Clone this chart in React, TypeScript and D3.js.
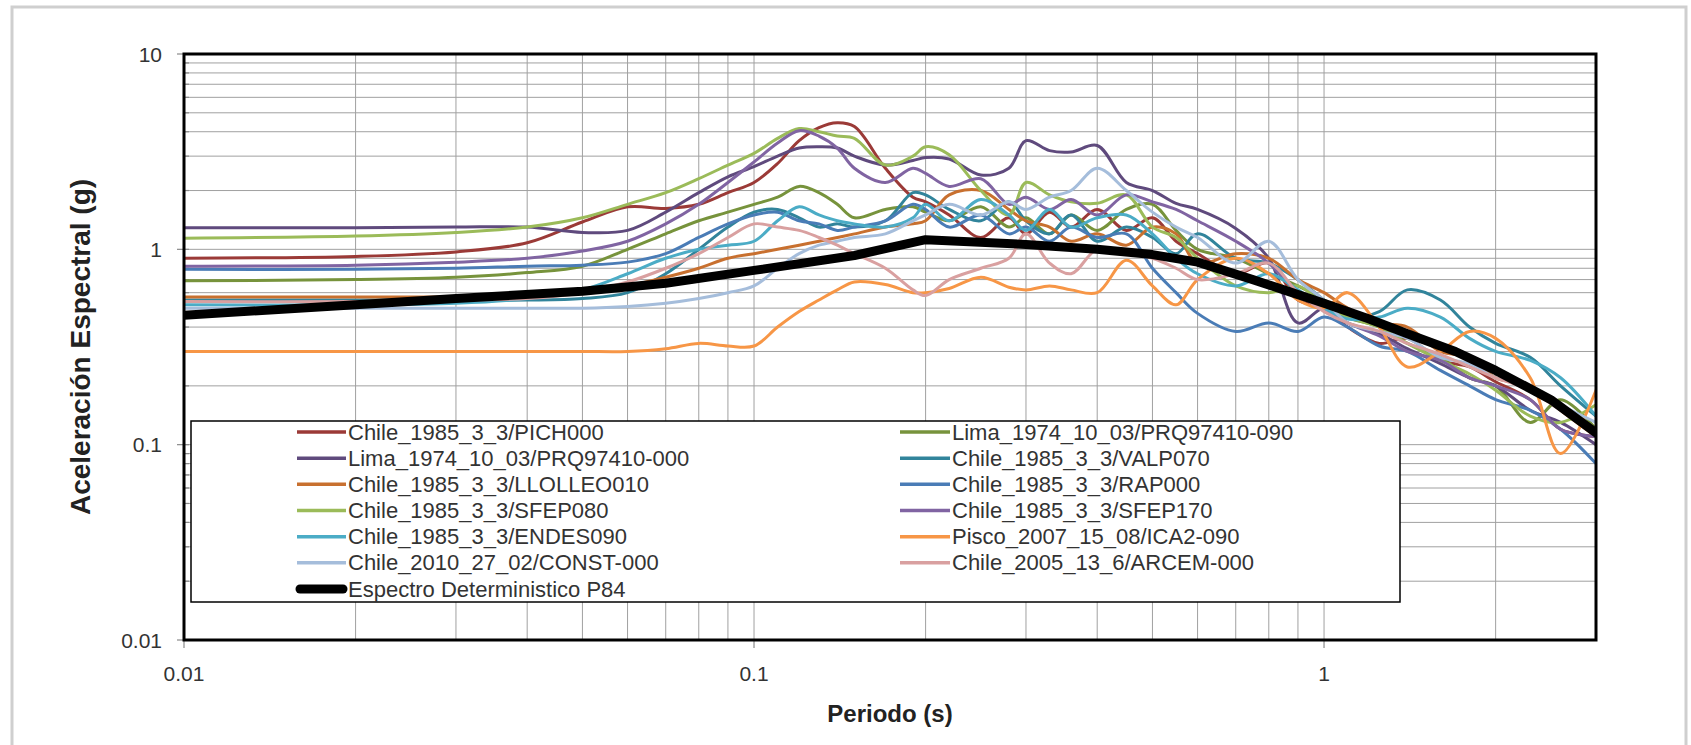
import React from 'react';
import * as d3 from 'd3';

// ---------- data ----------
const periods = [0.01, 0.02, 0.03, 0.04, 0.05, 0.06, 0.07, 0.08, 0.09, 0.10, 0.11, 0.12, 0.13, 0.14, 0.15, 0.17, 0.19, 0.20, 0.22, 0.25, 0.28, 0.30, 0.33, 0.36, 0.40, 0.45, 0.50, 0.55, 0.60, 0.70, 0.80, 0.90, 1.00, 1.10, 1.25, 1.40, 1.60, 1.80, 2.00, 2.30, 2.60, 3.00];

const pich000 = [0.90, 0.92, 0.97, 1.08, 1.38, 1.65, 1.62, 1.70, 1.95, 2.2, 2.75, 3.6, 4.2, 4.45, 4.25, 2.6, 1.85, 1.75, 1.5, 1.15, 1.45, 1.2, 1.55, 1.3, 1.6, 1.25, 1.45, 1.1, 0.95, 0.75, 0.85, 0.55, 0.5, 0.4, 0.33, 0.35, 0.27, 0.25, 0.21, 0.17, 0.12, 0.11];
const prq090 = [0.69, 0.70, 0.72, 0.76, 0.82, 1.0, 1.2, 1.4, 1.55, 1.7, 1.85, 2.1, 1.95, 1.7, 1.45, 1.6, 1.65, 1.55, 1.4, 1.65, 1.3, 1.45, 1.2, 1.5, 1.25, 1.6, 1.7, 1.25, 1.0, 0.9, 0.75, 0.65, 0.55, 0.45, 0.4, 0.33, 0.28, 0.22, 0.2, 0.13, 0.17, 0.12];
const prq000 = [1.29, 1.29, 1.30, 1.30, 1.22, 1.25, 1.55, 1.95, 2.35, 2.65, 3.0, 3.3, 3.35, 3.3, 3.0, 2.7, 2.85, 2.95, 2.9, 2.4, 2.6, 3.6, 3.2, 3.15, 3.4, 2.2, 2.0, 1.72, 1.6, 1.28, 0.9, 0.42, 0.5, 0.42, 0.37, 0.31, 0.26, 0.22, 0.2, 0.15, 0.13, 0.1];
const valp070 = [0.55, 0.55, 0.55, 0.55, 0.56, 0.6, 0.75, 1.0, 1.3, 1.55, 1.6, 1.45, 1.3, 1.35, 1.3, 1.4, 1.95, 1.9, 1.6, 1.4, 1.75, 1.4, 1.2, 1.5, 1.1, 1.3, 1.15, 0.95, 1.2, 0.9, 0.85, 0.7, 0.55, 0.45, 0.48, 0.62, 0.55, 0.4, 0.33, 0.28, 0.2, 0.14];
const llolleo010 = [0.57, 0.57, 0.57, 0.58, 0.6, 0.65, 0.72, 0.8, 0.9, 0.95, 1.0, 1.05, 1.1, 1.15, 1.2, 1.3, 1.35, 1.4, 1.9, 2.0, 1.6, 1.4, 1.3, 1.1, 1.2, 1.05, 1.3, 1.2, 0.85, 0.95, 0.9, 0.7, 0.6, 0.5, 0.42, 0.4, 0.3, 0.28, 0.22, 0.2, 0.15, 0.11];
const rap000 = [0.79, 0.79, 0.80, 0.82, 0.83, 0.86, 0.95, 1.15, 1.35, 1.5, 1.55, 1.4, 1.35, 1.25, 1.3, 1.4, 1.7, 1.6, 1.3, 1.5, 1.2, 1.3, 1.1, 1.3, 1.15, 1.2, 0.8, 0.6, 0.47, 0.38, 0.42, 0.38, 0.45, 0.4, 0.32, 0.3, 0.24, 0.2, 0.17, 0.15, 0.12, 0.08];
const sfep080 = [1.14, 1.17, 1.22, 1.3, 1.45, 1.7, 1.95, 2.3, 2.7, 3.1, 3.7, 4.15, 4.0, 3.8, 3.7, 2.7, 3.0, 3.35, 3.05, 2.0, 1.5, 2.2, 1.9, 1.75, 1.72, 1.9, 1.3, 1.15, 0.9, 0.65, 0.6, 0.65, 0.52, 0.45, 0.4, 0.33, 0.27, 0.23, 0.19, 0.14, 0.13, 0.16];
const sfep170 = [0.82, 0.83, 0.86, 0.9, 0.98, 1.1, 1.35, 1.7, 2.2, 2.8, 3.5, 4.05, 3.8, 3.3, 2.6, 2.2, 2.6, 2.45, 2.1, 2.3, 1.7, 1.85, 1.6, 1.8, 1.5, 1.9, 1.75, 1.6, 1.4, 1.1, 0.85, 0.6, 0.5, 0.42, 0.36, 0.3, 0.27, 0.22, 0.2, 0.17, 0.12, 0.11];
const endes090 = [0.52, 0.52, 0.53, 0.56, 0.62, 0.75, 0.9, 1.0, 1.05, 1.1, 1.4, 1.65, 1.5, 1.4, 1.35, 1.3, 1.45, 1.7, 1.4, 1.8, 1.5, 1.25, 1.6, 1.3, 1.45, 1.5, 1.2, 0.9, 0.75, 0.65, 0.75, 0.62, 0.5, 0.44, 0.45, 0.5, 0.45, 0.35, 0.3, 0.27, 0.22, 0.14];
const ica2090 = [0.30, 0.30, 0.30, 0.30, 0.30, 0.30, 0.31, 0.33, 0.32, 0.32, 0.4, 0.48, 0.55, 0.62, 0.68, 0.66, 0.6, 0.6, 0.63, 0.72, 0.64, 0.62, 0.65, 0.62, 0.6, 0.88, 0.65, 0.52, 0.7, 0.9, 0.75, 0.55, 0.5, 0.6, 0.4, 0.25, 0.3, 0.38, 0.35, 0.22, 0.09, 0.19];
const const000 = [0.50, 0.50, 0.50, 0.50, 0.50, 0.51, 0.53, 0.56, 0.6, 0.65, 0.8, 0.95, 1.05, 1.1, 1.15, 1.2, 1.4, 1.5, 1.7, 1.5, 1.75, 1.6, 1.85, 2.0, 2.6, 2.0, 1.55, 1.3, 1.15, 0.85, 1.1, 0.7, 0.55, 0.42, 0.38, 0.35, 0.28, 0.26, 0.22, 0.2, 0.16, 0.13];
const arcem000 = [0.54, 0.54, 0.55, 0.56, 0.6, 0.68, 0.8, 0.95, 1.15, 1.35, 1.3, 1.25, 1.15, 1.05, 0.95, 0.8, 0.62, 0.58, 0.7, 0.8, 0.9, 1.2, 0.85, 0.75, 1.0, 0.95, 0.9, 0.8, 0.7, 0.75, 0.85, 0.6, 0.48, 0.42, 0.38, 0.33, 0.29, 0.25, 0.22, 0.19, 0.15, 0.12];

const p84Periods = [0.01, 0.02, 0.03, 0.05, 0.07, 0.1, 0.15, 0.2, 0.3, 0.4, 0.5, 0.6, 0.75, 0.85, 1.0, 1.2, 1.4, 1.7, 2.0, 2.5, 3.0];
const p84Values = [0.46, 0.52, 0.56, 0.61, 0.67, 0.78, 0.93, 1.12, 1.06, 1.0, 0.94, 0.86, 0.70, 0.62, 0.53, 0.44, 0.37, 0.30, 0.24, 0.17, 0.115];

const seriesNames = [
  'Chile_1985_3_3/PICH000',
  'Lima_1974_10_03/PRQ97410-090',
  'Lima_1974_10_03/PRQ97410-000',
  'Chile_1985_3_3/VALP070',
  'Chile_1985_3_3/LLOLLEO010',
  'Chile_1985_3_3/RAP000',
  'Chile_1985_3_3/SFEP080',
  'Chile_1985_3_3/SFEP170',
  'Chile_1985_3_3/ENDES090',
  'Pisco_2007_15_08/ICA2-090',
  'Chile_2010_27_02/CONST-000',
  'Chile_2005_13_6/ARCEM-000',
];
const seriesColors = ['#9B3A37', '#77933C', '#5F4A7D', '#31849B', '#C8702F', '#4A7CB6', '#9BBB59', '#8064A2', '#4BACC6', '#F79646', '#A5BDDB', '#D9A0A0'];
const seriesValues = [pich000, prq090, prq000, valp070, llolleo010, rap000, sfep080, sfep170, endes090, ica2090, const000, arcem000];

const p84Name = 'Espectro Deterministico P84';
const xTickValues = [0.01, 0.1, 1];
const xTickLabels = ['0.01', '0.1', '1'];
const yTickValues = [0.01, 0.1, 1, 10];
const yTickLabels = ['0.01', '0.1', '1', '10'];
const xTitle = 'Periodo (s)';
const yTitle = 'Aceleración Espectral (g)';

// ---------- layout ----------
const W = 1691;
const H = 745;
const L = 184, R = 1596, T = 54, B = 640;

export default function App() {
  const x = d3.scaleLog().domain([0.01, 3]).range([L, R]);
  const y = d3.scaleLog().domain([0.01, 10]).range([B, T]);

  const xGrid: number[] = [];
  [0.01, 0.1, 1].forEach((d) => {
    for (let k = 1; k <= 9; k++) {
      const v = d * k;
      if (v <= 3.0001) xGrid.push(v);
    }
  });
  const yGrid: number[] = [];
  [0.01, 0.1, 1].forEach((d) => {
    for (let k = 1; k <= 9; k++) yGrid.push(d * k);
  });
  yGrid.push(10);

  const smooth = d3
    .line<[number, number]>()
    .x((d) => x(d[0]))
    .y((d) => y(d[1]))
    .curve(d3.curveCatmullRom.alpha(0.5));
  const straight = d3
    .line<[number, number]>()
    .x((d) => x(d[0]))
    .y((d) => y(d[1]));

  const font = '"Liberation Sans", Arial, sans-serif';

  const legendTop = 432;
  const legendStep = 26.17;
  const leftEntries = [0, 2, 4, 6, 8, 10];
  const rightEntries = [1, 3, 5, 7, 9, 11];

  return (
    <svg width={W} height={H} style={{ position: 'absolute', left: 0, top: 0, background: '#fff' }}>
      <defs>
        <clipPath id="plotclip">
          <rect x={L} y={T} width={R - L} height={B - T} />
        </clipPath>
      </defs>
      <rect x={0} y={0} width={W} height={H} fill="#fff" />
      {/* outer chart frame */}
      <rect x={12} y={7} width={1674} height={H + 10} fill="none" stroke="#cfcfcf" strokeWidth={3} />

      {/* grid */}
      <g stroke="#a0a0a0" strokeWidth={1}>
        {xGrid.map((v, i) => (
          <line key={'gx' + i} x1={x(v)} x2={x(v)} y1={T} y2={B} />
        ))}
        {yGrid.map((v, i) => (
          <line key={'gy' + i} x1={L} x2={R} y1={y(v)} y2={y(v)} />
        ))}
      </g>

      {/* ticks */}
      <g stroke="#8a8a8a" strokeWidth={1.2}>
        {yTickValues.map((v, i) => (
          <line key={'yt' + i} x1={L - 7} x2={L} y1={y(v)} y2={y(v)} />
        ))}
        {yGrid.map((v, i) => (
          <line key={'ymt' + i} x1={L} x2={L + 5} y1={y(v)} y2={y(v)} />
        ))}
        {xTickValues.map((v, i) => (
          <line key={'xt' + i} x1={x(v)} x2={x(v)} y1={B} y2={B + 8} />
        ))}
      </g>

      {/* series */}
      <g clipPath="url(#plotclip)" fill="none" strokeLinejoin="round" strokeLinecap="round">
        {seriesValues.map((vals, si) => (
          <path
            key={'s' + si}
            d={smooth(periods.map((p, i) => [p, vals[i]] as [number, number])) || ''}
            stroke={seriesColors[si]}
            strokeWidth={3}
          />
        ))}
        <path
          d={straight(p84Periods.map((p, i) => [p, p84Values[i]] as [number, number])) || ''}
          stroke="#000"
          strokeWidth={9}
        />
      </g>

      {/* plot frame */}
      <rect x={L} y={T} width={R - L} height={B - T} fill="none" stroke="#000" strokeWidth={3} />

      {/* tick labels */}
      <g fontFamily={font} fontSize={21} fill="#333">
        {yTickValues.map((v, i) => (
          <text key={'yl' + i} x={L - 22} y={y(v)} textAnchor="end" dominantBaseline="central">
            {yTickLabels[i]}
          </text>
        ))}
        {xTickValues.map((v, i) => (
          <text key={'xl' + i} x={x(v)} y={673} textAnchor="middle" dominantBaseline="central">
            {xTickLabels[i]}
          </text>
        ))}
      </g>

      {/* axis titles */}
      <text x={(L + R) / 2} y={713} textAnchor="middle" dominantBaseline="central" fontFamily={font} fontWeight="bold" fontSize={24} fill="#222">
        {xTitle}
      </text>
      <text
        transform={`translate(80, ${(T + B) / 2}) rotate(-90)`}
        textAnchor="middle"
        dominantBaseline="central"
        fontFamily={font}
        fontWeight="bold"
        fontSize={28}
        fill="#222"
      >
        {yTitle}
      </text>

      {/* legend */}
      <rect x={191} y={421} width={1209} height={181} fill="#fff" stroke="#000" strokeWidth={1.5} />
      <g fontFamily={font} fontSize={22} fill="#333">
        {leftEntries.map((si, r) => (
          <g key={'ll' + si}>
            <line x1={297} x2={346} y1={legendTop + r * legendStep} y2={legendTop + r * legendStep} stroke={seriesColors[si]} strokeWidth={3.5} />
            <text x={348} y={legendTop + r * legendStep} dominantBaseline="central">
              {seriesNames[si]}
            </text>
          </g>
        ))}
        {rightEntries.map((si, r) => (
          <g key={'lr' + si}>
            <line x1={900} x2={950} y1={legendTop + r * legendStep} y2={legendTop + r * legendStep} stroke={seriesColors[si]} strokeWidth={3.5} />
            <text x={952} y={legendTop + r * legendStep} dominantBaseline="central">
              {seriesNames[si]}
            </text>
          </g>
        ))}
        <line x1={300} x2={343} y1={legendTop + 6 * legendStep} y2={legendTop + 6 * legendStep} stroke="#000" strokeWidth={9} strokeLinecap="round" />
        <text x={348} y={legendTop + 6 * legendStep} dominantBaseline="central">
          {p84Name}
        </text>
      </g>
    </svg>
  );
}
